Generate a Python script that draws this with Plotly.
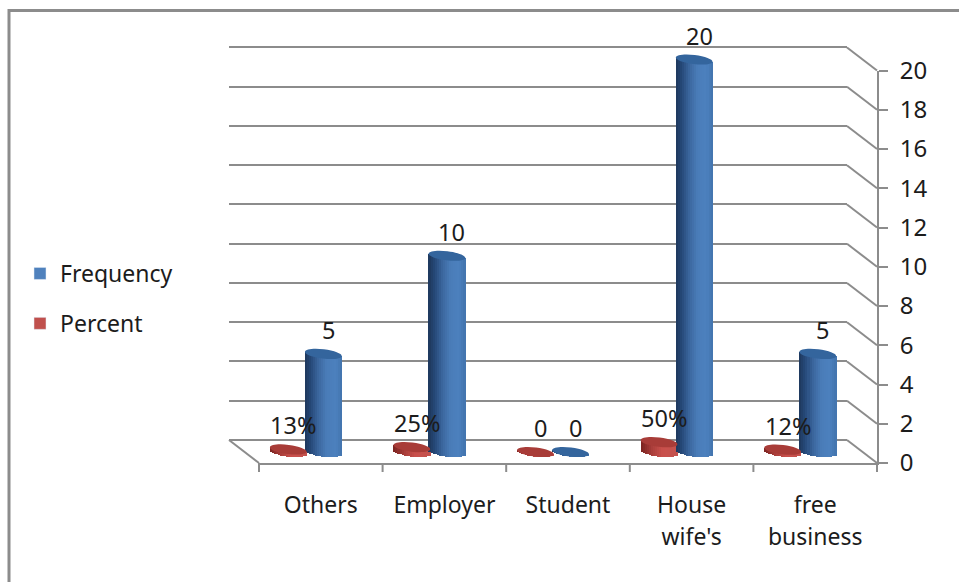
import math
import plotly.graph_objects as go

# ---- data ----
categories = ["Others", "Employer", "Student", "House", "free"]
categories_line2 = ["", "", "", "wife's", "business"]
frequency = [5, 10, 0, 20, 5]
frequency_labels = ["5", "10", "0", "20", "5"]
percent = [0.13, 0.25, 0, 0.50, 0.12]
percent_labels = ["13%", "25%", "0", "50%", "12%"]
y_ticks = list(range(0, 21, 2))

# ---- layout helpers ----
W, H = 959, 582
def xf(p): return p / W
def yf(p): return 1 - p / H

GRAY = "#8c8c8c"
TEXT = "#1c1c1c"
FONT = "Noto Sans"
SCALE = (463 - 70.5) / 20      # px per unit
BAR_OFF = 0.142                # half distance of the two cylinders, category units
RX, RY = 18.5, 4.6
PHI = math.radians(7)
TILT = RX * math.tan(PHI) * 0.95
CAT_W = (877 - 259) / 5
N = 18
PAD = 0.1                      # back wall axis padding so its 0 and 20 grid lines are kept


def lerp(stops, t):
    for (a, ca), (b, cb) in zip(stops, stops[1:]):
        if t <= b:
            f = (t - a) / (b - a)
            c = [round(int(ca[i:i+2], 16) + f * (int(cb[i:i+2], 16) - int(ca[i:i+2], 16))) for i in (1, 3, 5)]
            return "rgb(%d,%d,%d)" % tuple(c)
    return stops[-1][1]


BLUE = [(0, "#1f3a60"), (.15, "#26497a"), (.35, "#3a659c"), (.6, "#4a7cb8"), (.85, "#4c80be"), (1, "#4476b0")]
RED = [(0, "#7e2522"), (.3, "#ab3f3b"), (.6, "#c9504c"), (1, "#c4524e")]

fig = go.Figure()

# empty traces so that the front axes and the back wall exist as subplots
fig.add_trace(go.Scatter(x=[None], y=[None], showlegend=False, hoverinfo="skip", xaxis="x", yaxis="y"))
fig.add_trace(go.Scatter(x=[None], y=[None], showlegend=False, hoverinfo="skip", xaxis="x2", yaxis="y2"))

# legend entries
fig.add_trace(go.Bar(x=[None], y=[None], name="Frequency", marker_color="#4f81bd",
                     legendgroup="f", xaxis="x3", yaxis="y3"))
fig.add_trace(go.Bar(x=[None], y=[None], name="Percent", marker_color="#c0504d",
                     legendgroup="p", xaxis="x3", yaxis="y3"))


def cylinder(values, direction, stops):
    idx = list(range(len(values)))
    w = 2 * RX / CAT_W / N
    for k in range(N):
        u = -1 + (2 * k + 1) / N
        base_px = -RY * math.sqrt(max(0, 1 - u * u)) - TILT * u
        top_px = -TILT * u
        base = [base_px / SCALE] * len(values)
        tops = [v + top_px / SCALE for v in values]
        fig.add_trace(go.Bar(
            x=idx, y=[t - b for t, b in zip(tops, base)], base=base,
            width=w * 1.15, offset=direction * BAR_OFF + u * RX / CAT_W - w / 2,
            marker=dict(color=lerp(stops, k / (N - 1)), line_width=0),
            showlegend=False, hoverinfo="skip", xaxis="x3", yaxis="y3"))


cylinder(percent, -1, RED)
cylinder(frequency, 1, BLUE)


def ellipse_path(rx, ry, phi):
    kappa = 0.5523
    def pt(a, b):
        # a along major axis, b along minor; y is up, right end goes down
        return (a * rx * math.cos(phi) + b * ry * math.sin(phi),
                -a * rx * math.sin(phi) + b * ry * math.cos(phi))
    seq = [(1, 0), (1, kappa), (kappa, 1), (0, 1), (-kappa, 1), (-1, kappa), (-1, 0),
           (-1, -kappa), (-kappa, -1), (0, -1), (kappa, -1), (1, -kappa), (1, 0)]
    pts = [pt(*s) for s in seq]
    d = "M%.2f,%.2f" % pts[0]
    for i in range(1, 13, 3):
        d += " C%.2f,%.2f %.2f,%.2f %.2f,%.2f" % (*pts[i], *pts[i + 1], *pts[i + 2])
    return d + " Z"


shapes = []
# frame of the picture
shapes.append(dict(type="line", xref="paper", yref="paper", x0=xf(9), x1=1, y0=yf(10.5), y1=yf(10.5),
                   line=dict(color=GRAY, width=3), layer="below"))
shapes.append(dict(type="line", xref="paper", yref="paper", x0=xf(9), x1=xf(9), y0=yf(9), y1=0,
                   line=dict(color=GRAY, width=3), layer="below"))
# depth lines from the back wall to the front axis (paper refs: axis shapes are clipped to their subplot)
for v in y_ticks:
    back = 440 - v * SCALE
    shapes.append(dict(type="line", xref="paper", yref="paper", x0=xf(847), y0=yf(back),
                       x1=xf(877), y1=yf(back + 23), line=dict(color=GRAY, width=2), layer="below"))
shapes.append(dict(type="line", xref="paper", yref="paper", x0=xf(229), y0=yf(440),
                   x1=xf(259), y1=yf(463), line=dict(color=GRAY, width=2), layer="below"))
# category boundary tick marks on the front axis
for i in range(6):
    shapes.append(dict(type="line", xref="paper", yref="paper", x0=xf(259 + i * CAT_W), x1=xf(259 + i * CAT_W),
                       y0=yf(463), y1=yf(472), line=dict(color=GRAY, width=2), layer="below"))
# cylinder caps
path = ellipse_path(RX, RY, PHI)
for values, direction, col in ((percent, -1, "#a83c38"), (frequency, 1, "#34659d")):
    for i, v in enumerate(values):
        shapes.append(dict(type="path", xref="x3", yref="y3", xsizemode="pixel", ysizemode="pixel",
                           xanchor=i + direction * BAR_OFF, yanchor=v, path=path,
                           fillcolor=col, line=dict(width=0), layer="above"))

annotations = []
for labels, values, direction in ((percent_labels, percent, -1), (frequency_labels, frequency, 1)):
    for i, (t, v) in enumerate(zip(labels, values)):
        annotations.append(dict(text=t, xref="x3", yref="y3", x=i + direction * BAR_OFF, y=v,
                                xshift=5, yshift=24, showarrow=False, xanchor="center", yanchor="middle",
                                font=dict(family=FONT, size=23.5, color=TEXT)))

ticktext = [a if not b else f"{a}<br>{b}" for a, b in zip(categories, categories_line2)]
ticktext = [f'<span style="font-size:23px">{t.replace("<br>", "</span><br><span style=\"font-size:23px\">")}</span>' for t in ticktext]

fig.update_layout(
    width=W, height=H, autosize=False,
    margin=dict(l=0, r=0, t=0, b=0),
    paper_bgcolor="white", plot_bgcolor="rgba(0,0,0,0)",
    barmode="overlay", bargap=0, showlegend=True,
    font=dict(family=FONT, size=23, color=TEXT),
    legend=dict(x=xf(20), y=yf(252), xanchor="left", yanchor="top", tracegroupgap=17,
                bgcolor="rgba(0,0,0,0)", font=dict(family=FONT, size=23, color=TEXT),
                itemclick=False, itemdoubleclick=False),
    xaxis=dict(domain=[xf(259), xf(877)], anchor="y", type="linear", range=[-0.5, 4.5], automargin=False,
               tickmode="array", tickvals=list(range(5)), ticktext=ticktext, ticks="",
               showgrid=False, zeroline=False, showline=True, linecolor=GRAY, linewidth=2,
               tickfont=dict(family=FONT, size=24.6, color=TEXT), ticklabelstandoff=18),
    yaxis=dict(domain=[yf(463), yf(70.5)], anchor="x", side="right", range=[0, 20], automargin=False,
               tickmode="array", tickvals=y_ticks, ticks="outside", ticklen=9, tickwidth=2, tickcolor=GRAY,
               showgrid=False, zeroline=False, showline=True, linecolor=GRAY, linewidth=2,
               tickfont=dict(family=FONT, size=24, color=TEXT), ticklabelstandoff=7),
    xaxis2=dict(domain=[xf(229), xf(847)], anchor="y2", range=[-0.5, 4.5], visible=False, automargin=False),
    yaxis2=dict(domain=[yf(440 + PAD * SCALE), yf(47.5 - PAD * SCALE)], anchor="x2", range=[-PAD, 20 + PAD],
                tickmode="array", tickvals=y_ticks,
                showgrid=True, gridcolor=GRAY, gridwidth=2, zeroline=False, showline=False, automargin=False,
                showticklabels=False, ticks=""),
    xaxis3=dict(domain=[xf(244), xf(862)], anchor="y3", range=[-0.5, 4.5], visible=False, automargin=False),
    yaxis3=dict(domain=[yf(452 + SCALE), yf(452 - 21 * SCALE)], anchor="x3", range=[-1, 21], visible=False, automargin=False),
    shapes=shapes, annotations=annotations,
)

fig.write_html("out.html", config=dict(displayModeBar=False),
               post_script="document.body.style.margin='0';document.documentElement.style.overflow='hidden';")
